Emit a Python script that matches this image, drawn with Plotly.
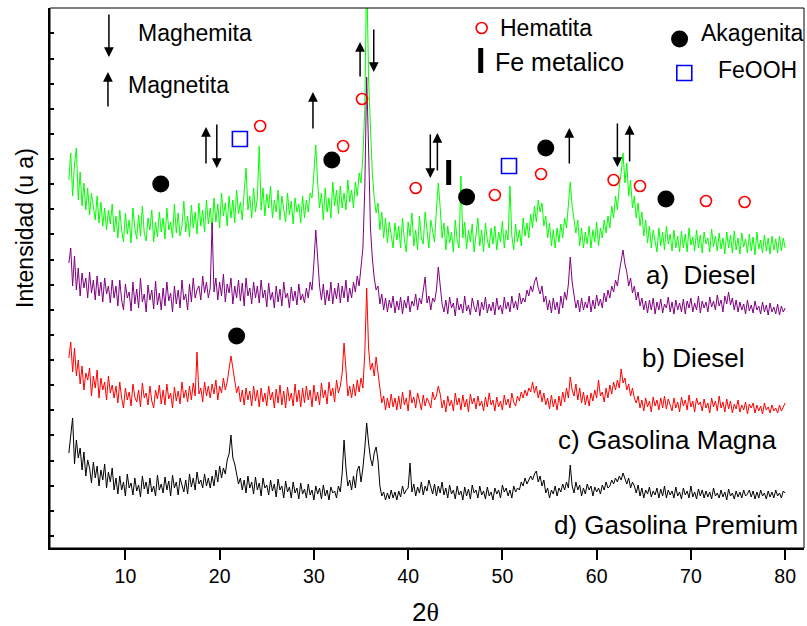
import numpy as np
import plotly.graph_objects as go

# ---------------- data: intensities on a 0.2 deg grid, one block per 5 deg (4.0-8.8, 9.0-13.8, ...) ----------------
green_blocks = [
    [368, 395, 352, 384, 400, 348, 376, 342, 365, 338, 360, 333, 355, 340, 328, 352, 325, 346, 322, 340, 318, 338, 324, 344, 316],
    [332, 310, 338, 318, 306, 335, 314, 328, 305, 340, 320, 309, 333, 312, 342, 315, 307, 330, 318, 338, 306, 326, 311, 336, 316],
    [330, 309, 340, 318, 326, 310, 344, 315, 335, 312, 322, 347, 316, 332, 311, 343, 320, 336, 314, 345, 322, 338, 316, 348, 324],
    [340, 318, 350, 326, 344, 320, 355, 332, 345, 322, 352, 330, 348, 325, 358, 334, 346, 328, 356, 380, 338, 352, 330, 360, 336],
    [350, 402, 338, 360, 332, 354, 340, 362, 330, 348, 336, 358, 328, 352, 341, 326, 355, 333, 347, 324, 350, 336, 344, 325, 352],
    [330, 348, 336, 355, 350, 375, 403, 365, 340, 355, 328, 360, 336, 350, 330, 366, 342, 358, 334, 362, 340, 355, 338, 368, 346],
    [358, 340, 366, 352, 375, 365, 392, 440, 580, 470, 420, 375, 350, 335, 345, 318, 336, 310, 330, 305, 326, 310, 300, 325, 308],
    [322, 300, 330, 308, 296, 326, 312, 335, 302, 318, 298, 332, 310, 304, 336, 315, 300, 328, 318, 306, 338, 365, 340, 310, 325],
    [298, 322, 305, 316, 296, 328, 308, 300, 372, 310, 326, 299, 318, 306, 324, 296, 314, 330, 302, 318, 296, 325, 308, 300, 320],
    [304, 322, 298, 316, 306, 327, 300, 318, 308, 362, 312, 298, 324, 306, 318, 302, 330, 312, 325, 310, 334, 320, 342, 326, 348],
    [336, 345, 322, 332, 310, 325, 302, 318, 300, 320, 306, 324, 310, 330, 320, 345, 366, 342, 330, 315, 328, 302, 320, 300, 316],
    [304, 322, 300, 318, 306, 326, 302, 320, 310, 328, 315, 332, 320, 342, 330, 352, 338, 362, 375, 395, 365, 385, 352, 368, 340],
    [352, 330, 345, 322, 336, 312, 328, 305, 322, 300, 318, 308, 296, 320, 302, 316, 298, 322, 304, 314, 297, 318, 300, 312, 296],
    [317, 300, 314, 296, 320, 303, 311, 297, 318, 300, 313, 295, 316, 304, 310, 296, 319, 301, 312, 297, 315, 299, 310, 294, 316],
    [300, 313, 295, 317, 298, 310, 294, 315, 301, 309, 295, 314, 297, 311, 293, 316, 299, 308, 295, 313, 297, 310, 294, 312, 298],
    [309, 295, 312, 297, 310, 300],
]
purple_blocks = [
    [285, 300, 262, 292, 258, 280, 252, 275, 260, 270, 250, 276, 255, 268, 248, 272, 252, 266, 246, 270, 254, 262, 245, 268, 250],
    [262, 242, 268, 248, 238, 264, 250, 256, 237, 266, 244, 259, 240, 270, 246, 254, 236, 263, 248, 258, 239, 267, 243, 255, 238],
    [260, 242, 266, 247, 255, 236, 262, 244, 258, 240, 268, 248, 254, 238, 264, 246, 270, 250, 258, 262, 248, 272, 255, 266, 250],
    [260, 325, 256, 270, 248, 266, 252, 274, 246, 264, 255, 270, 244, 262, 250, 268, 247, 265, 242, 270, 252, 260, 244, 266, 250],
    [262, 245, 268, 250, 258, 241, 265, 248, 256, 240, 262, 246, 259, 242, 266, 250, 255, 240, 261, 247, 257, 243, 264, 248, 254],
    [245, 260, 250, 266, 258, 285, 318, 290, 262, 248, 264, 243, 258, 247, 266, 244, 260, 249, 265, 245, 262, 250, 268, 246, 260],
    [250, 266, 256, 272, 262, 280, 300, 360, 471, 400, 320, 290, 270, 258, 262, 244, 254, 238, 250, 236, 248, 240, 252, 235, 247],
    [238, 251, 234, 248, 240, 252, 236, 247, 242, 254, 238, 250, 244, 256, 271, 245, 252, 238, 250, 246, 258, 281, 262, 244, 236],
    [248, 234, 251, 240, 245, 232, 250, 238, 244, 235, 252, 237, 243, 233, 250, 241, 236, 248, 232, 246, 238, 251, 235, 244, 237],
    [246, 233, 250, 238, 243, 234, 251, 239, 246, 236, 252, 240, 247, 238, 255, 244, 250, 246, 258, 252, 262, 256, 266, 271, 260],
    [254, 262, 246, 252, 238, 248, 235, 250, 238, 246, 234, 252, 240, 256, 248, 264, 291, 266, 250, 240, 248, 236, 250, 238, 246],
    [240, 252, 236, 248, 239, 253, 242, 249, 240, 255, 246, 258, 250, 262, 256, 268, 262, 276, 286, 298, 284, 276, 262, 270, 255],
    [262, 248, 256, 242, 250, 238, 247, 235, 248, 238, 250, 234, 246, 238, 249, 235, 244, 240, 251, 236, 246, 234, 248, 238, 245],
    [236, 249, 234, 247, 240, 250, 236, 245, 238, 252, 235, 247, 240, 246, 236, 251, 241, 247, 238, 253, 242, 248, 236, 252, 244],
    [256, 243, 250, 238, 248, 236, 246, 238, 244, 234, 248, 237, 243, 235, 247, 238, 242, 234, 246, 236, 243, 233, 245, 236, 241],
    [234, 244, 233, 242, 236, 240],
]
red_blocks = [
    [190, 206, 176, 200, 172, 188, 164, 182, 158, 175, 168, 180, 152, 172, 160, 178, 150, 170, 158, 166, 148, 172, 155, 163, 150],
    [162, 145, 166, 150, 140, 160, 148, 156, 142, 164, 151, 146, 158, 141, 165, 150, 155, 143, 162, 147, 140, 158, 149, 163, 144],
    [158, 143, 164, 149, 155, 140, 161, 147, 157, 144, 166, 150, 158, 146, 162, 148, 165, 152, 196, 154, 160, 146, 166, 152, 162],
    [150, 164, 154, 168, 148, 162, 155, 170, 158, 166, 178, 192, 180, 168, 155, 162, 146, 158, 143, 160, 148, 157, 142, 162, 147],
    [158, 141, 160, 146, 155, 142, 162, 148, 156, 140, 159, 145, 163, 143, 157, 140, 161, 147, 155, 142, 164, 146, 158, 141, 160],
    [145, 162, 148, 158, 141, 163, 147, 156, 143, 165, 150, 158, 144, 166, 152, 160, 146, 168, 155, 162, 175, 205, 172, 152, 162],
    [150, 164, 152, 168, 156, 170, 160, 195, 260, 200, 178, 185, 172, 191, 178, 160, 145, 152, 138, 150, 140, 154, 141, 150, 138],
    [152, 139, 156, 143, 150, 137, 158, 145, 151, 140, 155, 147, 138, 153, 142, 150, 146, 140, 156, 148, 152, 162, 154, 140, 148],
    [136, 152, 142, 148, 137, 155, 143, 150, 138, 153, 141, 149, 136, 154, 144, 150, 139, 152, 142, 147, 137, 151, 141, 155, 143],
    [148, 137, 151, 141, 147, 138, 153, 143, 149, 140, 155, 146, 142, 152, 147, 156, 150, 158, 152, 160, 156, 166, 155, 162, 150],
    [158, 146, 155, 143, 150, 139, 153, 141, 149, 138, 152, 142, 156, 146, 160, 150, 171, 158, 152, 164, 148, 160, 145, 156, 143],
    [153, 142, 155, 147, 158, 150, 168, 152, 156, 146, 160, 150, 163, 154, 166, 158, 168, 160, 179, 165, 170, 158, 164, 152, 160],
    [150, 145, 152, 140, 148, 137, 150, 141, 147, 136, 151, 142, 148, 138, 150, 140, 152, 139, 149, 143, 137, 150, 140, 146, 136],
    [151, 142, 148, 138, 153, 141, 147, 136, 150, 143, 146, 137, 149, 140, 145, 135, 150, 141, 147, 137, 152, 140, 146, 136, 149],
    [139, 147, 135, 144, 139, 148, 136, 143, 138, 146, 134, 144, 140, 145, 135, 143, 137, 142, 134, 145, 138, 141, 135, 143, 137],
    [140, 135, 143, 137, 141, 145],
]
black_blocks = [
    [95, 110, 130, 84, 108, 90, 100, 78, 96, 72, 88, 80, 65, 86, 70, 82, 62, 78, 68, 84, 60, 76, 66, 80, 58],
    [70, 54, 72, 58, 66, 52, 74, 60, 65, 53, 70, 57, 63, 51, 72, 59, 66, 54, 70, 56, 62, 52, 73, 58, 64],
    [55, 71, 58, 67, 52, 73, 60, 66, 53, 70, 62, 56, 68, 54, 74, 61, 70, 58, 76, 64, 68, 60, 74, 62, 70],
    [60, 72, 62, 78, 66, 82, 70, 80, 74, 88, 94, 113, 90, 84, 72, 64, 70, 58, 68, 55, 72, 60, 66, 54, 71],
    [58, 65, 52, 70, 60, 63, 53, 68, 57, 64, 51, 69, 58, 62, 50, 67, 56, 61, 50, 66, 55, 60, 49, 65, 54],
    [59, 50, 64, 53, 58, 48, 62, 54, 60, 49, 63, 52, 58, 48, 61, 55, 57, 50, 62, 56, 75, 108, 80, 62, 68],
    [58, 72, 60, 78, 82, 66, 80, 100, 125, 105, 90, 82, 95, 101, 88, 62, 52, 56, 48, 55, 49, 58, 50, 56, 48],
    [57, 51, 62, 54, 58, 60, 85, 56, 64, 52, 61, 55, 66, 53, 62, 57, 68, 60, 54, 64, 52, 62, 55, 66, 53],
    [60, 50, 63, 54, 58, 49, 62, 53, 57, 48, 61, 52, 59, 49, 63, 55, 58, 50, 62, 53, 57, 49, 61, 52, 56],
    [48, 60, 54, 58, 50, 63, 56, 60, 52, 58, 50, 62, 56, 60, 58, 66, 62, 70, 64, 68, 72, 68, 74, 77, 66],
    [72, 62, 68, 55, 60, 50, 58, 54, 62, 52, 60, 56, 64, 58, 66, 60, 83, 62, 55, 66, 58, 63, 52, 60, 54],
    [64, 58, 62, 52, 61, 56, 60, 54, 63, 58, 66, 60, 62, 68, 64, 70, 66, 72, 68, 75, 70, 64, 70, 60, 66],
    [62, 55, 63, 52, 60, 50, 58, 54, 61, 51, 57, 53, 60, 50, 59, 52, 62, 50, 58, 53, 57, 50, 61, 52, 56],
    [49, 60, 53, 57, 50, 62, 51, 56, 49, 59, 52, 58, 50, 57, 51, 56, 49, 60, 52, 55, 50, 58, 51, 56, 48],
    [59, 52, 55, 49, 57, 51, 56, 50, 58, 52, 54, 58, 51, 57, 49, 56, 50, 58, 52, 55, 49, 57, 51, 56, 50],
    [58, 52, 55, 50, 57, 55],
]
theta_start = 4.0
block_width = 5.0
theta_step = 0.2

x_ticks = [10, 20, 30, 40, 50, 60, 70, 80]

# phase markers
hematita_x = [47.8, 24.3, 33.1, 35.1, 40.8, 49.2, 54.1, 61.8, 64.6, 71.6, 75.7]
hematita_y = [520, 422, 402, 449, 360, 353, 374, 368, 362, 347, 346]
akagenita_x = [68.8, 13.75, 31.9, 46.2, 54.6, 67.35, 21.8]
akagenita_y = [509, 364, 388, 351, 400, 349, 212]
feooh_x = [69.3, 22.15, 50.7]
feooh_y = [475, 409, 382]
fe_x = [47.7, 44.3]
fe_y_low = [475, 363]
fe_y_high = [500, 388]

# arrows: x, tail y, head y  (down = maghemita, up = magnetita)
arrow_x = [8.25, 8.15, 18.55, 19.7, 29.9, 34.9, 36.35, 42.35, 43.1, 57.1, 62.2, 63.5]
arrow_tail = [535, 440, 383, 425, 418, 470, 520, 415, 376, 383, 426, 385]
arrow_head = [491, 476, 421, 380, 456, 506, 476, 370, 415, 420, 381, 423]

# text labels
text_labels = ["Maghemita", "Magnetita", "Hematita", "Fe metalico", "Akagenita", "FeOOH",
               "a)  Diesel", "b) Diesel", "c) Gasolina Magna", "d) Gasolina Premium"]
text_x = [11.1, 10.05, 49.5, 48.95, 70.9, 72.7, 65.0, 64.6, 55.7, 55.3]
text_y = [515, 463, 520, 486, 515, 478, 273, 190, 108, 23]
text_size = [23, 23, 23, 25, 23, 23, 26, 26, 26, 26]

FONT = "Liberation Sans, Arial, sans-serif"

fig = go.Figure()

series = [(green_blocks, "#00ff00"), (purple_blocks, "#800080"),
          (red_blocks, "#ff0000"), (black_blocks, "#000000")]
for blocks, col in series:
    xs, ys = [], []
    for b, block in enumerate(blocks):
        for i, v in enumerate(block):
            xs.append(round(theta_start + block_width * b + theta_step * i, 3))
            ys.append(v)
    fig.add_trace(go.Scatter(x=xs, y=ys, mode="lines", line=dict(color=col, width=1),
                             showlegend=False, hoverinfo="skip"))

fig.add_trace(go.Scatter(x=hematita_x, y=hematita_y, mode="markers",
                         marker=dict(symbol="circle-open", size=11, color="#ff0000",
                                     line=dict(width=1.6, color="#ff0000")),
                         showlegend=False, cliponaxis=False))
fig.add_trace(go.Scatter(x=akagenita_x, y=akagenita_y, mode="markers",
                         marker=dict(symbol="circle", size=17, color="#000000"),
                         showlegend=False, cliponaxis=False))
fig.add_trace(go.Scatter(x=feooh_x, y=feooh_y, mode="markers",
                         marker=dict(symbol="square-open", size=15, color="#0000ff",
                                     line=dict(width=1.6, color="#0000ff")),
                         showlegend=False, cliponaxis=False))
bx, by = [], []
for xv, y0, y1 in zip(fe_x, fe_y_low, fe_y_high):
    bx += [xv, xv, None]
    by += [y0, y1, None]
fig.add_trace(go.Scatter(x=bx, y=by, mode="lines", line=dict(color="#000000", width=5),
                         showlegend=False))

annotations = []
for xv, yt, yh in zip(arrow_x, arrow_tail, arrow_head):
    annotations.append(dict(x=xv, y=yh, ax=xv, ay=yt, xref="x", yref="y", axref="x", ayref="y",
                            text="", showarrow=True, arrowhead=2, arrowsize=1.3,
                            arrowwidth=1.5, arrowcolor="#000000"))
for t, xv, yv, s in zip(text_labels, text_x, text_y, text_size):
    annotations.append(dict(x=xv, y=yv, xref="x", yref="y", text=t, showarrow=False,
                            xanchor="left", yanchor="middle",
                            font=dict(family=FONT, size=s, color="#000000")))
annotations.append(dict(x=-25 / 754, y=(548 - 228) / 540, xref="paper", yref="paper",
                        text="Intensidad (u a)", textangle=-90, showarrow=False,
                        xanchor="center", yanchor="middle",
                        font=dict(family=FONT, size=23, color="#000000")))
annotations.append(dict(x=(425 - 50) / 754, y=-(612 - 548) / 540, xref="paper", yref="paper",
                        text="2<span style='font-family:Liberation Serif, serif'>θ</span>",
                        showarrow=False, xanchor="center", yanchor="middle",
                        font=dict(family=FONT, size=26, color="#000000")))

fig.update_layout(
    width=807, height=626,
    margin=dict(l=50, r=3, t=8, b=78),
    paper_bgcolor="white", plot_bgcolor="white",
    annotations=annotations,
    shapes=[dict(type="rect", xref="paper", yref="paper", x0=0, y0=0, x1=1, y1=1,
                 line=dict(color="#000000", width=1))],
    xaxis=dict(range=[2, 82], tickvals=x_ticks, ticks="outside", ticklen=10, tickwidth=2,
               tickcolor="#000000", showline=True, linecolor="#000000", linewidth=2,
               showgrid=False, zeroline=False,
               tickfont=dict(family=FONT, size=19.5, color="#000000")),
    yaxis=dict(range=[0, 540], tick0=12, dtick=25.13, ticks="inside", ticklen=4, tickwidth=1.5,
               tickcolor="#000000", showticklabels=False, showline=True, linecolor="#000000",
               linewidth=2, showgrid=False, zeroline=False),
)

fig.write_html("out.html", config={"displayModeBar": False},
               post_script="document.body.style.margin='0px';document.body.style.overflow='hidden';")
